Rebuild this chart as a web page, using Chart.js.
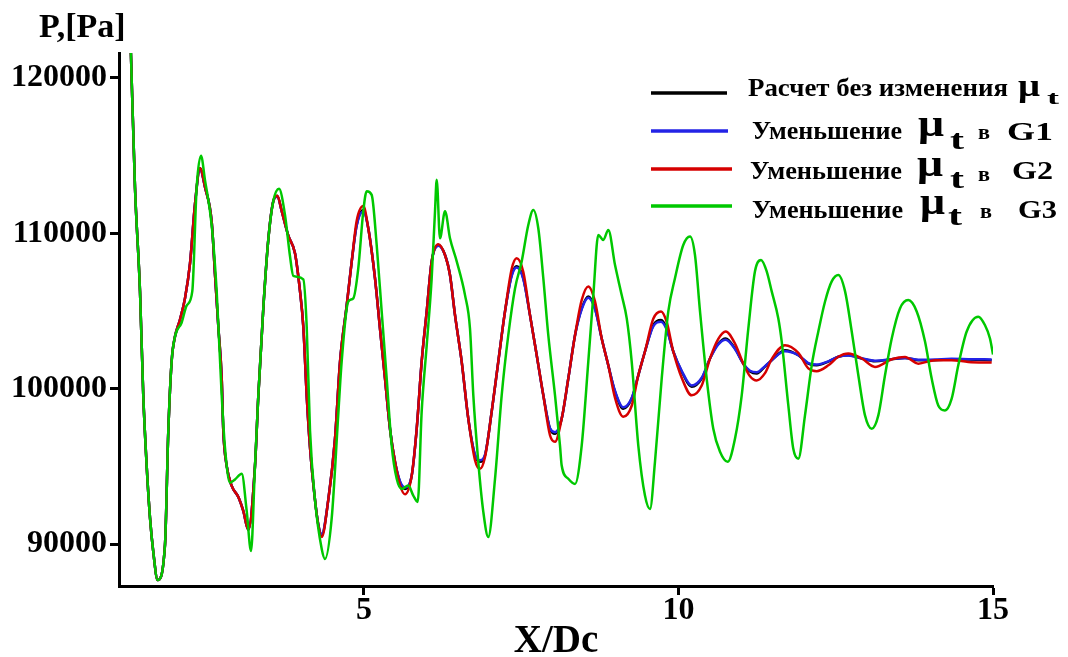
<!DOCTYPE html>
<html>
<head>
<meta charset="utf-8">
<script src="https://cdn.jsdelivr.net/npm/chart.js@4.4.1/dist/chart.umd.min.js"></script>
<style>
  html, body { margin: 0; padding: 0; background: #fff; }
  #wrap { width: 1068px; height: 657px; }
</style>
</head>
<body>
<div id="wrap"><canvas id="chart" width="1068" height="657"></canvas></div>
<script>
// values: X/Dc and P [Pa]
const xTicks = [5, 10, 15];
const yTicks = [90000, 100000, 110000, 120000];
const xTitle = 'X/Dc';
const yTitle = 'P,[Pa]';
const seriesNames = ['Расчет без изменения', 'Уменьшение', 'Уменьшение', 'Уменьшение'];
const zoneNames = ['', 'G1', 'G2', 'G3'];

// common x grid for the first three runs
const xBase = [1.29,1.359,1.439,1.491,1.545,1.598,1.650,1.720,1.836,1.889,1.943,1.995,2.075,2.154,2.234,2.313,2.393,2.472,2.579,2.631,
  2.684,2.738,2.763,2.817,2.897,3.002,3.081,3.161,3.267,3.320,3.399,3.479,3.558,3.622,3.692,3.797,3.903,3.983,4.035,4.089,
  4.142,4.221,4.274,4.328,4.432,4.539,4.619,4.725,4.805,4.884,4.989,5.068,5.175,5.254,5.334,5.413,5.493,5.572,5.652,5.758,
  5.838,5.917,5.997,6.076,6.181,6.288,6.367,6.447,6.553,6.658,6.765,6.844,6.924,7.030,7.135,7.242,7.348,7.428,7.533,7.639,
  7.746,7.851,7.957,8.037,8.143,8.248,8.355,8.461,8.566,8.673,8.779,8.884,8.991,9.122,9.256,9.361,9.467,9.599,9.722,9.812,
  9.917,10.051,10.210,10.369,10.501,10.633,10.750,10.898,11.030,11.137,11.243,11.375,11.482,11.693,11.905,12.064,12.197,12.382,12.541,12.700,
  12.913,13.124,13.390,13.601,13.812,14.078,14.343,14.607,14.979];

const pBase = [122200,112970,106260,99550,95030,91680,89490,87680,89940,97290,101810,103350,104450,105810,108060,111870,114190,112970,110710,107350,
  104000,100650,97290,95030,93740,93030,92130,90910,95030,99550,105160,109610,112060,112410,111420,109840,108710,106260,104000,99550,
  96200,92840,91250,90580,92840,96780,101740,105350,108190,110530,111500,110320,107100,103870,100650,97420,95290,94000,93550,94390,
  97420,101740,104970,108190,109240,108600,107310,104730,101740,98070,95700,95290,95700,98520,101740,104970,107310,107870,107100,104730,
  102150,99570,97420,97100,98070,100650,103440,105160,105930,105160,103230,101500,99810,98710,99360,100860,102390,104080,104410,103870,
  102390,101100,100130,100650,101940,102900,103230,102580,101610,101100,100970,101420,101830,102470,102150,101610,101500,101740,102050,102150,
  101940,101760,101890,101980,101830,101830,101890,101870,101830];

const pG1 = [122200,112970,106260,99550,95030,91680,89490,87680,89940,97290,101810,103350,104450,105810,108060,111870,114100,112970,110710,107350,
  104000,100650,97290,95030,93740,93030,92130,90910,95030,99550,105160,109610,112060,112350,111420,109840,108710,106260,104000,99550,
  96200,92840,91250,90650,92840,96780,101740,105350,108190,110500,111400,110320,107100,103870,100650,97420,95290,94050,93650,94390,
  97420,101740,104970,108190,109200,108600,107310,104730,101740,98070,95750,95400,95750,98520,101740,104970,107250,107800,107050,104730,
  102150,99570,97450,97200,98070,100650,103440,105100,105850,105100,103230,101500,99850,98800,99400,100860,102390,104000,104300,103800,
  102390,101150,100200,100700,101940,102850,103150,102550,101610,101150,101050,101450,101830,102400,102150,101650,101550,101760,102050,102130,
  101960,101800,101900,101980,101860,101880,101920,101900,101880];

const pG2 = [122200,112970,106260,99550,95030,91680,89490,87680,89940,97290,101810,103350,104450,105810,108060,111870,114190,112970,110710,107350,
  104000,100650,97290,95030,93740,93030,92130,90910,95030,99550,105160,109610,112060,112410,111420,109840,108710,106260,104000,99550,
  96200,92840,91200,90450,92840,96780,101740,105350,108190,110800,111750,110320,107100,103870,100650,97420,95290,93800,93200,94390,
  97420,101740,104970,108190,109300,108600,107310,104730,101740,98070,95400,94840,95600,98520,101740,104970,107700,108390,107500,104730,
  102150,99570,97000,96580,98070,100650,103440,105700,106580,105600,103230,101500,99400,98190,98900,100860,102390,104500,104970,104300,
  102390,100700,99570,100200,101940,103200,103680,102900,101610,100800,100530,101000,101900,102800,102300,101300,101120,101500,102050,102260,
  101940,101400,101890,102040,101610,101830,101830,101720,101680];

// the fourth run has its own x grid
const xG3 = [1.29,1.359,1.439,1.491,1.545,1.598,1.650,1.720,1.836,1.889,1.943,1.995,2.102,2.181,2.270,2.340,2.409,2.472,2.579,2.658,
  2.738,2.790,2.870,2.949,3.056,3.135,3.204,3.267,3.320,3.399,3.479,3.558,3.649,3.744,3.824,3.876,4.035,4.089,4.142,4.221,
  4.328,4.380,4.487,4.592,4.645,4.750,4.830,4.909,4.989,5.043,5.122,5.202,5.281,5.361,5.440,5.520,5.599,5.704,5.784,5.854,
  5.917,5.997,6.076,6.129,6.156,6.208,6.288,6.367,6.474,6.606,6.685,6.738,6.817,6.897,6.976,7.083,7.189,7.294,7.401,7.507,
  7.612,7.692,7.771,7.851,7.930,8.037,8.116,8.143,8.248,8.355,8.461,8.566,8.646,8.725,8.805,8.884,8.991,9.097,9.177,9.256,
  9.361,9.467,9.547,9.626,9.733,9.838,9.944,10.076,10.183,10.262,10.342,10.448,10.553,10.660,10.782,10.898,11.005,11.110,11.216,11.312,
  11.402,11.482,11.587,11.641,11.746,11.825,11.905,12.011,12.118,12.223,12.330,12.436,12.541,12.648,12.754,12.859,12.965,13.072,13.177,13.283,
  13.390,13.521,13.653,13.787,13.919,14.025,14.130,14.237,14.343,14.448,14.582,14.766,14.873,14.952,15.0];

const pG3 = [122200,112970,106260,99550,95030,91680,89490,87680,89940,97290,101810,103350,104260,105350,106260,112970,114990,113420,110510,106260,
  99550,96200,93940,94160,94520,92130,89550,95030,99550,105160,109610,112060,112860,111180,108510,107260,107030,104000,97290,92840,
  89680,89040,91680,98410,101740,105610,105810,107740,111420,112710,112470,109240,104970,100650,96340,94200,93550,93760,93120,92710,
  98520,102790,107100,111420,113440,109680,111420,109680,108190,106020,103870,99570,95290,92070,90450,94200,99570,103440,106450,108190,
  110530,111500,110320,107100,103440,99570,96340,95050,94200,93870,96340,101740,106020,109890,109570,110210,107950,106020,104520,101740,
  96340,93120,92260,95290,100650,104970,107100,109240,109790,108600,104970,100650,97420,95940,95290,96780,99570,103870,107550,108280,
  107550,106260,104520,103030,98920,96130,95490,98280,101500,103680,105610,106900,107310,106260,103680,100860,98280,97420,98280,100860,
  103230,105160,105700,104970,103030,100650,98920,98600,99360,101500,103680,104630,104080,103230,102200];

const seriesColors = ['#000000', '#2323e6', '#d60000', '#00c800'];
const fam = '"Liberation Serif", "Times New Roman", serif';

function zip(xs, ys) {
  return xs.map((x, i) => ({ x: x, y: ys[i] }));
}

// text drawn to a given width, the original lettering is stretched
function fitText(ctx, text, x, y, w) {
  const m = ctx.measureText(text).width;
  ctx.save();
  ctx.translate(x, y);
  ctx.scale(w / m, 1);
  ctx.fillText(text, 0, 0);
  ctx.restore();
}

const legendRows = [
  { ly: 93, lx2: 727, tx: 748, tb: 96, tw: 260, mx: 1018, mb: 96, ms: 31, mw: 22, sx: 1047, sb: 104, ss: 19, sw: 12 },
  { ly: 131, lx2: 728, tx: 752, tb: 139, tw: 150, mx: 918, mb: 136, ms: 38, mw: 26, sx: 950, sb: 149, ss: 28, sw: 14, vx: 978, vb: 139, gx: 1007, gb: 140, gw: 46 },
  { ly: 169, lx2: 732, tx: 750, tb: 179, tw: 152, mx: 917, mb: 176, ms: 38, mw: 26, sx: 950, sb: 188, ss: 28, sw: 14, vx: 978, vb: 181, gx: 1012, gb: 179, gw: 41 },
  { ly: 206, lx2: 732, tx: 752, tb: 218, tw: 151, mx: 920, mb: 214, ms: 38, mw: 25, sx: 948, sb: 225, ss: 28, sw: 14, vx: 980, vb: 218, gx: 1018, gb: 218, gw: 39 }
];

const extraText = {
  id: 'extraText',
  afterDraw(chart) {
    const ctx = chart.ctx;
    ctx.save();
    ctx.fillStyle = '#000';
    ctx.textBaseline = 'alphabetic';
    ctx.textAlign = 'left';
    ctx.font = 'bold 34px ' + fam;
    ctx.fillText(yTitle, 39, 37);

    legendRows.forEach((r, i) => {
      ctx.strokeStyle = seriesColors[i];
      ctx.lineWidth = 3.5;
      ctx.beginPath();
      ctx.moveTo(651, r.ly);
      ctx.lineTo(r.lx2, r.ly);
      ctx.stroke();

      ctx.font = 'bold 25px ' + fam;
      fitText(ctx, seriesNames[i], r.tx, r.tb, r.tw);
      ctx.font = 'bold ' + r.ms + 'px ' + fam;
      fitText(ctx, 'μ', r.mx, r.mb, r.mw);
      ctx.font = 'bold ' + r.ss + 'px ' + fam;
      fitText(ctx, 't', r.sx, r.sb, r.sw);
      if (zoneNames[i]) {
        ctx.font = 'bold 22px ' + fam;
        fitText(ctx, 'в', r.vx, r.vb, 12);
        ctx.font = 'bold 26px ' + fam;
        fitText(ctx, zoneNames[i], r.gx, r.gb, r.gw);
      }
    });
    ctx.restore();
  }
};

const tickFont = { family: fam, size: 32, weight: 'bold' };

new Chart(document.getElementById('chart'), {
  type: 'line',
  data: {
    datasets: [
      // green on top, black underneath, as in the picture
      { label: seriesNames[0], data: zip(xBase, pBase), borderColor: seriesColors[0], order: 4 },
      { label: seriesNames[1] + ' G1', data: zip(xBase, pG1), borderColor: seriesColors[1], order: 3 },
      { label: seriesNames[2] + ' G2', data: zip(xBase, pG2), borderColor: seriesColors[2], order: 2 },
      { label: seriesNames[3] + ' G3', data: zip(xG3, pG3), borderColor: seriesColors[3], order: 1 }
    ]
  },
  options: {
    responsive: false,
    animation: false,
    devicePixelRatio: 1,
    layout: { padding: { left: 0, right: 75, top: 53, bottom: 0 } },
    plugins: { legend: { display: false }, tooltip: { enabled: false } },
    elements: {
      point: { radius: 0 },
      line: { borderWidth: 2.5, fill: false, cubicInterpolationMode: 'monotone' }
    },
    scales: {
      x: {
        type: 'linear',
        min: 1.105,
        max: 15,
        afterBuildTicks: s => { s.ticks = xTicks.map(v => ({ value: v })); },
        afterFit: s => { s.height = 71; },
        grid: { drawOnChartArea: false, drawTicks: true, tickLength: 9, tickColor: '#000', tickWidth: 3 },
        border: { display: true, color: '#000', width: 3 },
        ticks: { color: '#000', font: tickFont, padding: -3, maxRotation: 0, autoSkip: false, callback: v => String(v) },
        title: { display: true, text: xTitle, color: '#000', padding: 0,
          font: { family: fam, size: 39, weight: 'bold', lineHeight: 0.75 } }
      },
      y: {
        type: 'linear',
        min: 87300,
        max: 121600,
        afterBuildTicks: s => { s.ticks = yTicks.map(v => ({ value: v })); },
        afterFit: s => { s.width = 119; },
        grid: { drawOnChartArea: false, drawTicks: true, tickLength: 9, tickColor: '#000', tickWidth: 3 },
        border: { display: true, color: '#000', width: 3 },
        ticks: { color: '#000', font: tickFont, padding: 3, autoSkip: false, callback: v => String(v) }
      }
    }
  },
  plugins: [extraText]
});
</script>
</body>
</html>
